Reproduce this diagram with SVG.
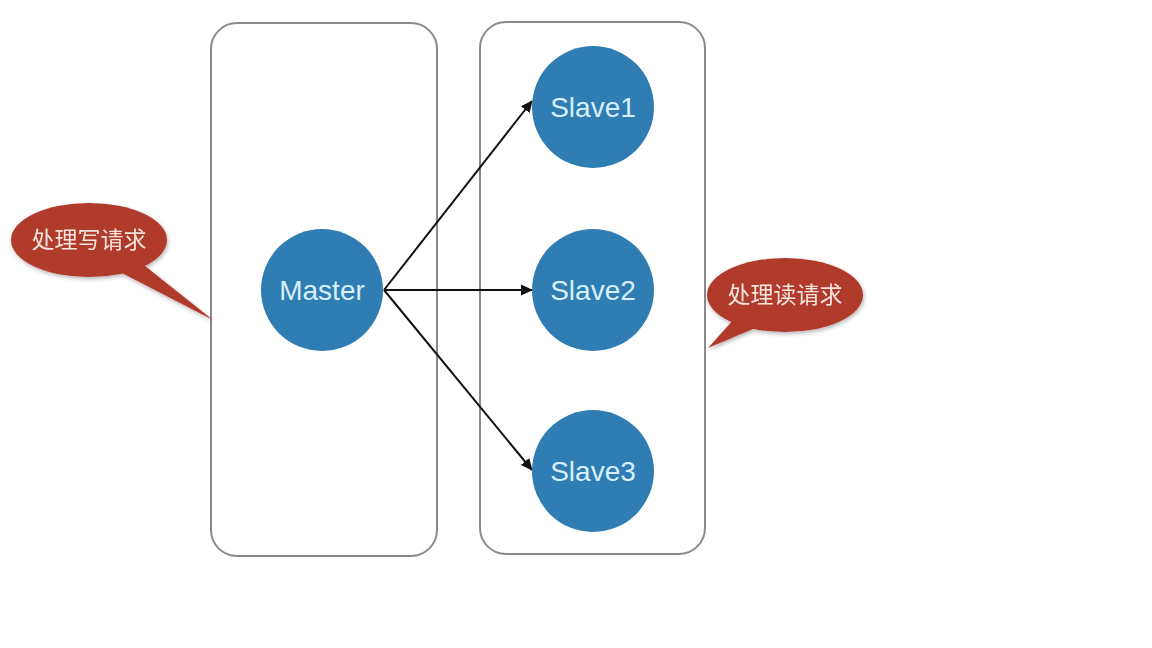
<svg xmlns="http://www.w3.org/2000/svg" width="1152" height="648" viewBox="0 0 1152 648">
<defs>
<style>
.box{fill:#ffffff;stroke:#8a8a8a;stroke-width:2}
.node{fill:#2f7db3}
.ntext{font-family:"Liberation Sans",Arial,sans-serif;font-size:28px;fill:#d8f0fb;text-anchor:middle;dominant-baseline:central}
.bubble{fill:#b03a2b}
.btext{font-family:"Noto Sans CJK SC","Noto Sans",sans-serif;font-size:23px;fill:#f7e4de;text-anchor:middle;dominant-baseline:central}
.conn{stroke:#111;stroke-width:2;fill:none}
</style>
<marker id="arr" markerWidth="12" markerHeight="12" refX="11" refY="6" orient="auto" markerUnits="userSpaceOnUse">
<path d="M0,0.5 L12,6 L0,11.5 Z" fill="#111"/>
</marker>
<filter id="sh" x="-20%" y="-20%" width="140%" height="140%">
<feGaussianBlur in="SourceAlpha" stdDeviation="2"/>
<feOffset dx="1" dy="2"/>
<feComponentTransfer><feFuncA type="linear" slope="0.3"/></feComponentTransfer>
<feMerge><feMergeNode/><feMergeNode in="SourceGraphic"/></feMerge>
</filter>
</defs>
<rect width="1152" height="648" fill="#ffffff"/>
<g id="group-master"><rect class="box" x="211" y="23" width="226" height="533" rx="26"/></g>
<g id="group-slaves"><rect class="box" x="480" y="22" width="225" height="532" rx="26"/></g>
<g id="connectors">
<line class="conn" x1="384" y1="290" x2="532" y2="101" marker-end="url(#arr)"/>
<line class="conn" x1="384" y1="290" x2="532" y2="290" marker-end="url(#arr)"/>
<line class="conn" x1="384" y1="290" x2="532" y2="470" marker-end="url(#arr)"/>
</g>
<g id="master"><circle class="node" cx="322" cy="290" r="61"/><text class="ntext" x="322" y="290">Master</text></g>
<g id="slave1"><circle class="node" cx="593" cy="107" r="61"/><text class="ntext" x="593" y="107">Slave1</text></g>
<g id="slave2"><circle class="node" cx="593" cy="290" r="61"/><text class="ntext" x="593" y="290">Slave2</text></g>
<g id="slave3"><circle class="node" cx="593" cy="471" r="61"/><text class="ntext" x="593" y="471">Slave3</text></g>
<g id="bubble-write" filter="url(#sh)">
<path class="bubble" d="M140,262 L213,320 L120,272 Z"/>
<ellipse class="bubble" cx="89" cy="240" rx="78" ry="37"/>
<text class="btext" x="89" y="238">处理写请求</text>
</g>
<g id="bubble-read" filter="url(#sh)">
<path class="bubble" d="M735,318 L708,348 L760,326 Z"/>
<ellipse class="bubble" cx="785" cy="295" rx="78" ry="37"/>
<text class="btext" x="785" y="293">处理读请求</text>
</g>
</svg>
